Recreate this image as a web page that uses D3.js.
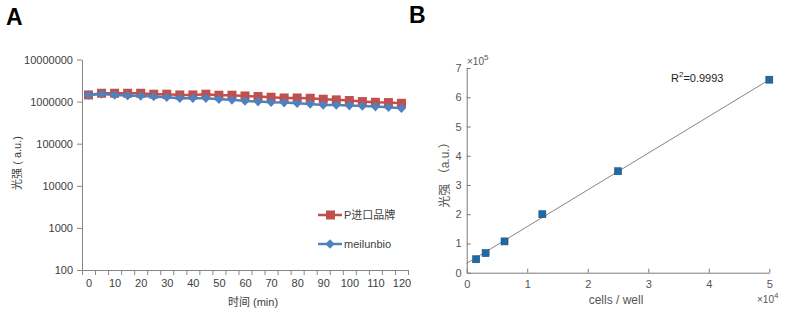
<!DOCTYPE html>
<html><head><meta charset="utf-8">
<script src="https://cdn.jsdelivr.net/npm/d3@7"></script>
<style>
body{margin:0;background:#fff;}
svg{display:block;font-family:"Liberation Sans",Arial,"Noto Sans CJK SC",sans-serif;}
</style></head><body>
<svg id="c" width="793" height="331"></svg>
<script>
// Panel A data
const timeMin = [0,5,10,15,20,25,30,35,40,45,50,55,60,65,70,75,80,85,90,95,100,105,110,115,120];
const importBrand = [1.44e6,1.58e6,1.58e6,1.58e6,1.58e6,1.5e6,1.5e6,1.44e6,1.44e6,1.5e6,1.42e6,1.42e6,1.36e6,1.32e6,1.27e6,1.22e6,1.22e6,1.2e6,1.14e6,1.1e6,1.06e6,1.0e6,0.964e6,0.947e6,0.913e6];
const meilunbio = [1.44e6,1.52e6,1.44e6,1.39e6,1.36e6,1.32e6,1.27e6,1.2e6,1.2e6,1.2e6,1.14e6,1.1e6,1.04e6,1.0e6,0.964e6,0.947e6,0.913e6,0.88e6,0.833e6,0.833e6,0.803e6,0.789e6,0.76e6,0.733e6,0.694e6];
const seriesNames = ["P进口品牌","meilunbio"];
const yTicksA = [100,1000,10000,100000,1000000,10000000];
const xLabelsA = [0,10,20,30,40,50,60,70,80,90,100,110,120];
// Panel B data
const cellsPerWell = [1563,3125,6250,12500,25000,50000];
const intensity = [0.46e5,0.67e5,1.07e5,2.0e5,3.47e5,6.6e5];
const fitLine = [[0,0.32e5],[50000,6.6e5]];
const xTicksB = [0,1,2,3,4,5];
const yTicksB = [0,1,2,3,4,5,6,7];

const svg = d3.select("#c");
const cjk = "'Liberation Sans',Arial,'Noto Sans CJK SC',sans-serif";

// Panel labels
svg.append("text").attr("x",6).attr("y",25).attr("font-size",23).attr("font-weight","bold").attr("font-family","'Liberation Sans',Arial").text("A");
svg.append("text").attr("x",409).attr("y",23).attr("font-size",23).attr("font-weight","bold").attr("font-family","'Liberation Sans',Arial").text("B");

// ===== Panel A =====
const xA = d3.scaleLinear().domain([-2.5,122.5]).range([82,408]);
const yA = d3.scaleLog().domain([100,1e7]).range([270,59.5]);
const gA = svg.append("g");
const axisCol = "#868686", txtCol = "#404040";

// y axis
const yAx = gA.append("g").attr("transform","translate(82,0)")
  .call(d3.axisLeft(yA).tickValues(yTicksA).tickFormat(d3.format("d")).tickSize(5).tickSizeOuter(0));
yAx.select(".domain").attr("stroke",axisCol);
yAx.selectAll(".tick line").attr("stroke",axisCol);
yAx.selectAll("text").attr("fill",txtCol).attr("font-size",11).attr("x",-9);
// x axis
const tickBounds = d3.range(26).map(i=>-2.5+5*i);
const xAx = gA.append("g").attr("transform","translate(0,270)")
  .call(d3.axisBottom(xA).tickValues(tickBounds).tickFormat("").tickSize(5).tickSizeOuter(0));
xAx.select(".domain").attr("stroke",axisCol);
xAx.selectAll(".tick line").attr("stroke",axisCol);
const xAl = gA.append("g").attr("transform","translate(0,270)")
  .call(d3.axisBottom(xA).tickValues(xLabelsA).tickSize(0));
xAl.select(".domain").remove();
xAl.selectAll("text").attr("fill",txtCol).attr("font-size",11).attr("dy","1.3em");

gA.append("text").attr("x",253).attr("y",306).attr("text-anchor","middle").attr("font-size",11).attr("fill",txtCol)
  .attr("font-family",cjk).text("时间 (min)");
gA.append("text").attr("transform","translate(21,163) rotate(-90)").attr("text-anchor","middle").attr("font-size",11).attr("fill",txtCol)
  .attr("font-family",cjk).text("光强 ( a.u.)");

const red = "#C0504D", blue = "#4F81BD";
const lineA = d3.line().x((d,i)=>xA(timeMin[i])).y(d=>yA(d));
gA.append("path").datum(importBrand).attr("d",lineA).attr("fill","none").attr("stroke",red).attr("stroke-width",2.5);
gA.selectAll(".sq").data(importBrand).enter().append("rect")
  .attr("x",(d,i)=>xA(timeMin[i])-4.5).attr("y",d=>yA(d)-4.5).attr("width",9).attr("height",9).attr("fill",red);
gA.append("path").datum(meilunbio).attr("d",lineA).attr("fill","none").attr("stroke",blue).attr("stroke-width",2.5);
const diamond = "M0,-4.8L4.5,0L0,4.8L-4.5,0Z";
gA.selectAll(".dm").data(meilunbio).enter().append("path")
  .attr("d",diamond).attr("transform",(d,i)=>`translate(${xA(timeMin[i])},${yA(d)})`).attr("fill",blue);

// legend
const leg = [{c:red,t:seriesNames[0],y:215,m:"sq"},{c:blue,t:seriesNames[1],y:244,m:"dm"}];
leg.forEach(l=>{
  gA.append("line").attr("x1",318).attr("x2",342).attr("y1",l.y).attr("y2",l.y).attr("stroke",l.c).attr("stroke-width",2.5);
  if(l.m==="sq") gA.append("rect").attr("x",326).attr("y",l.y-4.5).attr("width",9).attr("height",9).attr("fill",l.c);
  else gA.append("path").attr("d",diamond).attr("transform",`translate(330,${l.y})`).attr("fill",l.c);
  gA.append("text").attr("x",344).attr("y",l.y+4).attr("font-size",11).attr("fill",txtCol).attr("font-family",cjk).text(l.t);
});

// ===== Panel B =====
const xB = d3.scaleLinear().domain([0,5]).range([466.7,769.3]);
const yB = d3.scaleLinear().domain([0,7]).range([272.7,68]);
const gB = svg.append("g");
const axB = "#7a7a7a", txB = "#555";
const xBax = gB.append("g").attr("transform","translate(0,272.7)")
  .call(d3.axisBottom(xB).tickValues(xTicksB).tickFormat(d3.format("d")).tickSize(-4).tickSizeOuter(0).tickPadding(8));
xBax.select(".domain").attr("stroke",axB);
xBax.selectAll(".tick line").attr("stroke",axB);
xBax.selectAll("text").attr("fill",txB).attr("font-size",11);
const yBax = gB.append("g").attr("transform","translate(466.7,0)")
  .call(d3.axisLeft(yB).tickValues(yTicksB).tickFormat(d3.format("d")).tickSize(-4).tickSizeOuter(0).tickPadding(5));
yBax.select(".domain").attr("stroke",axB);
yBax.selectAll(".tick line").attr("stroke",axB);
yBax.selectAll("text").attr("fill",txB).attr("font-size",11);

// multipliers
const m5 = gB.append("text").attr("x",467).attr("y",65).attr("font-size",10).attr("fill",txB);
m5.append("tspan").text("×10");
m5.append("tspan").attr("dy",-5).attr("font-size",8).text("5");
const m4 = gB.append("text").attr("x",757).attr("y",303).attr("font-size",10).attr("fill",txB);
m4.append("tspan").text("×10");
m4.append("tspan").attr("dy",-5).attr("font-size",8).text("4");

gB.append("text").attr("x",616).attr("y",304).attr("text-anchor","middle").attr("font-size",12).attr("fill",txB).text("cells / well");
gB.append("text").attr("transform","translate(449,172) rotate(-90)").attr("text-anchor","middle").attr("font-size",12).attr("fill",txB)
  .attr("font-family",cjk).text("光强 （a.u.）");

gB.append("line").attr("x1",xB(fitLine[0][0]/1e4)).attr("y1",yB(fitLine[0][1]/1e5))
  .attr("x2",xB(fitLine[1][0]/1e4)).attr("y2",yB(fitLine[1][1]/1e5)).attr("stroke","#777").attr("stroke-width",0.9);
gB.selectAll(".pt").data(cellsPerWell).enter().append("rect")
  .attr("x",d=>xB(d/1e4)-3.5).attr("y",(d,i)=>yB(intensity[i]/1e5)-3.5).attr("width",7).attr("height",7)
  .attr("fill","#1f6aa5").attr("stroke","#184f7c").attr("stroke-width",0.6);

const r2 = gB.append("text").attr("x",671).attr("y",82).attr("font-size",11).attr("fill","#222");
r2.append("tspan").text("R");
r2.append("tspan").attr("dy",-5).attr("font-size",8).text("2");
r2.append("tspan").attr("dy",5).text("=0.9993");
</script></body></html>
